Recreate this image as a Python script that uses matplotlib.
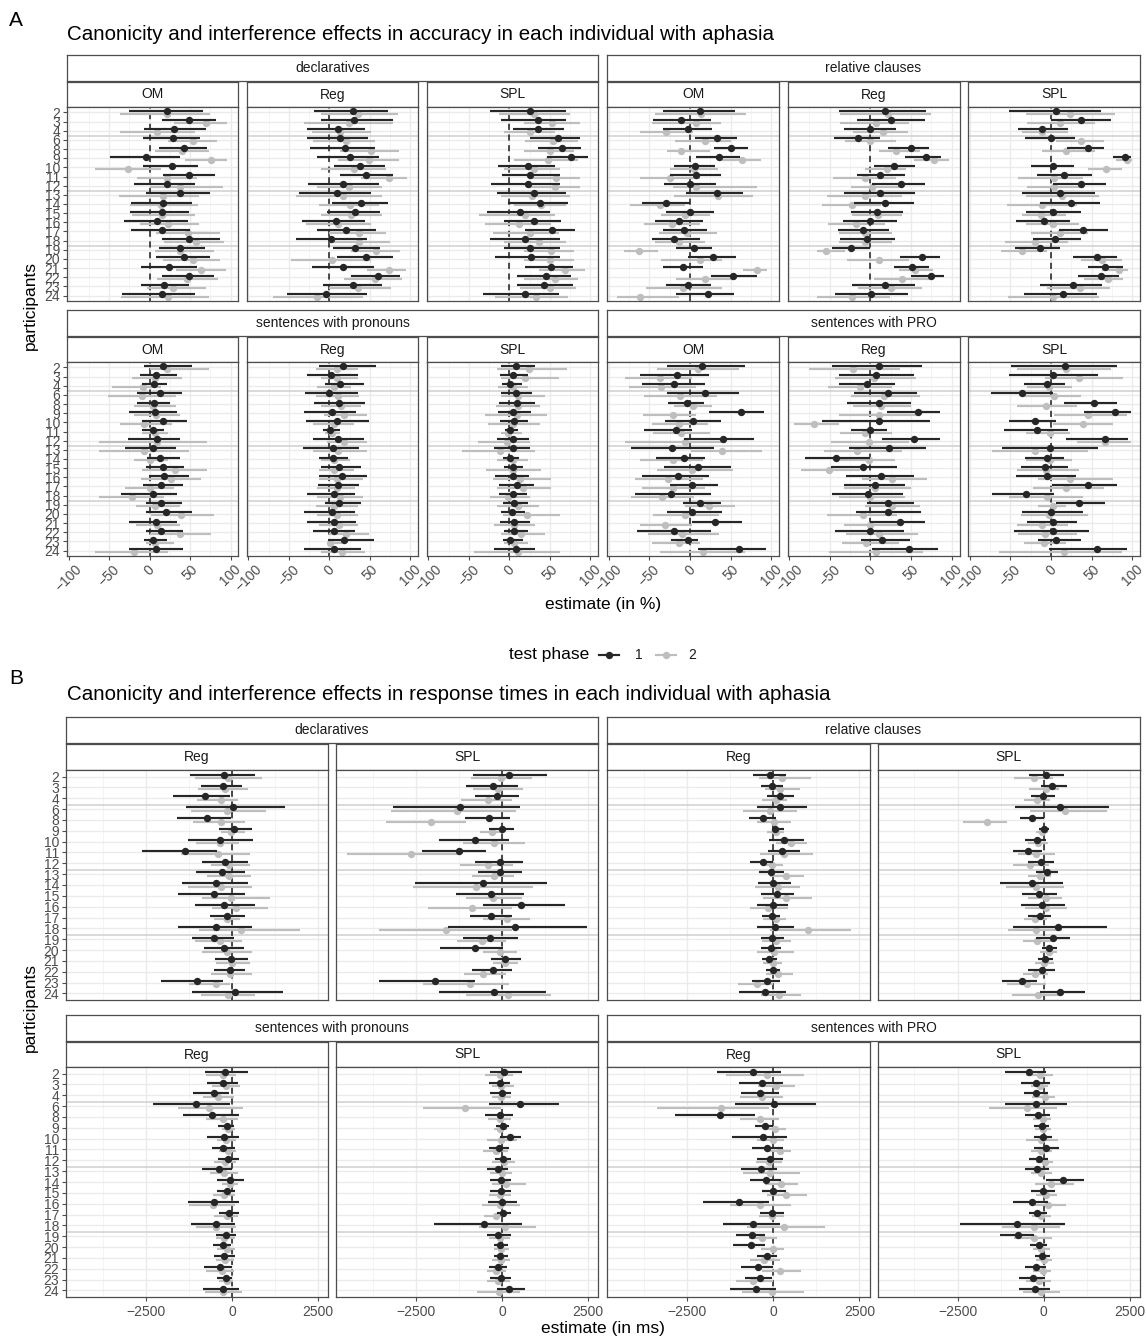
import numpy as np
import matplotlib
matplotlib.use("Agg")
import matplotlib.pyplot as plt
from matplotlib.lines import Line2D

plt.rcParams['font.family'] = ['Liberation Sans', 'DejaVu Sans']

# ---------------- categories ----------------
participants = ['2', '3', '4', '6', '8', '9', '10', '11', '12', '13', '14', '15', '16',
                '17', '18', '19', '20', '21', '22', '23', '24']
phase_labels = ['1', '2']
groups = ['declaratives', 'relative clauses', 'sentences with pronouns', 'sentences with PRO']
acc_conditions = ['OM', 'Reg', 'SPL']
rt_conditions = ['Reg', 'SPL']
acc_ticks = [-100, -50, 0, 50, 100]
acc_minor = [-75, -25, 25, 75]
rt_ticks = [-2500, 0, 2500]
rt_minor = [-3750, -1250, 1250]
separator_after = ['4', '12', '18']

title_A = "Canonicity and interference effects in accuracy in each individual with aphasia"
title_B = "Canonicity and interference effects in response times in each individual with aphasia"

# ---------------- A: accuracy (estimate, lower, upper; phase 1 and phase 2) ----------------
acc_decl_OM_est1 = [22, 49, 30, 29, 42, -5, 28, 49, 21, 38, 17, 15, 9, 15, 48, 38, 43, 24, 48, 18, 15]
acc_decl_OM_lo1 = [-25, 15, -7, -8, 11, -49, -8, 16, -19, -4, -23, -24, -32, -23, 15, 11, 8, -11, 15, -11, -34]
acc_decl_OM_hi1 = [66, 82, 70, 62, 71, 37, 60, 81, 56, 75, 52, 48, 47, 50, 87, 68, 75, 59, 80, 49, 56]
acc_decl_OM_est2 = [22, 70, 9, 53, 40, 76, -27, 21, 37, 16, 14, 15, 23, 47, 57, 38, 53, 64, 46, 29, 23]
acc_decl_OM_lo2 = [-37, 30, -37, 23, 7, 44, -67, -15, 0, -38, -24, -22, -12, 8, 18, 7, 16, 33, 9, -3, -35]
acc_decl_OM_hi2 = [75, 95, 56, 83, 73, 96, 14, 59, 91, 61, 60, 56, 61, 87, 92, 80, 87, 94, 85, 70, 73]

acc_decl_Reg_est1 = [29, 30, 10, 13, 19, 25, 38, 45, 17, 9, 39, 31, 8, 21, 2, 32, 45, 17, 60, 29, -4]
acc_decl_Reg_lo1 = [-19, -10, -28, -28, -24, -15, 5, 13, -26, -38, 3, -3, -34, -16, -41, 4, 9, -21, 26, -8, -53]
acc_decl_Reg_hi1 = [72, 79, 44, 48, 56, 61, 69, 78, 61, 51, 72, 63, 44, 58, 46, 63, 78, 55, 87, 65, 46]
acc_decl_Reg_est2 = [35, 24, 13, 20, 51, 49, 30, 73, 24, 17, 25, 27, 11, 36, 37, 58, 3, 74, 56, 35, -15]
acc_decl_Reg_lo2 = [-10, -32, -22, -20, 13, 11, -10, 39, -15, -41, -13, -10, -29, -1, 0, 27, -47, 46, 18, -1, -70]
acc_decl_Reg_hi2 = [84, 79, 51, 56, 86, 86, 70, 96, 65, 65, 61, 65, 51, 70, 75, 87, 51, 94, 89, 76, 42]

acc_decl_SPL_est1 = [26, 35, 36, 60, 65, 76, 23, 25, 23, 31, 38, 13, 31, 53, 19, 26, 27, 52, 45, 43, 19]
acc_decl_SPL_lo1 = [-24, -10, 5, 25, 36, 46, -14, -9, -22, -15, -1, -27, -7, 19, -24, -6, -18, 20, 9, 10, -32]
acc_decl_SPL_hi1 = [70, 70, 68, 87, 89, 97, 56, 62, 63, 70, 73, 50, 64, 81, 63, 63, 63, 79, 76, 79, 61]
acc_decl_SPL_est2 = [30, 53, 25, 54, 50, 48, 30, 58, 56, 28, 39, 20, 12, 25, 37, 51, 50, 69, 56, 50, 33]
acc_decl_SPL_lo2 = [-13, 18, -6, 20, 18, 6, -6, 28, 23, -10, 6, -37, -30, -20, -6, 18, 18, 37, 18, 13, -18]
acc_decl_SPL_hi2 = [75, 87, 56, 85, 80, 85, 63, 87, 87, 75, 70, 56, 51, 61, 70, 80, 80, 93, 85, 82, 73]

acc_rel_OM_est1 = [12, -11, -3, 33, 50, 36, 6, 7, 0, 33, -30, 0, -14, -7, -19, 5, 28, -8, 53, -3, 22]
acc_rel_OM_lo1 = [-33, -46, -33, 6, 29, 7, -19, -24, -32, -5, -59, -30, -43, -33, -47, -17, -2, -33, 26, -30, -17]
acc_rel_OM_hi1 = [55, 26, 27, 58, 71, 62, 31, 38, 32, 65, 0, 29, 16, 21, 12, 27, 57, 16, 82, 26, 54]
acc_rel_OM_est2 = [14, 7, -29, 18, -11, 64, 5, -25, 7, 35, -37, -6, -22, -4, -14, -63, 12, 82, 19, -8, -61]
acc_rel_OM_lo2 = [-43, -47, -61, -18, -28, 38, -25, -61, -21, -19, -74, -36, -57, -38, -43, -81, -35, 65, -17, -54, -90]
acc_rel_OM_hi2 = [69, 38, 4, 51, 25, 87, 35, 12, 82, 77, -6, 25, 12, 33, 18, -39, 40, 95, 54, 39, -14]

acc_rel_Reg_est1 = [18, 25, 0, -15, 50, 68, 29, 12, 37, 12, 18, 8, 0, -9, -4, -24, 64, 51, 75, 18, 1]
acc_rel_Reg_lo1 = [-39, -17, -32, -45, 22, 43, 4, -16, 2, -33, -20, -24, -34, -40, -38, -47, 36, 29, 50, -23, -44]
acc_rel_Reg_hi1 = [68, 67, 32, 12, 72, 87, 55, 43, 67, 55, 53, 40, 33, 23, 30, -1, 85, 72, 91, 55, 46]
acc_rel_Reg_est2 = [22, 7, 15, 0, 31, 78, 20, -7, 2, -7, -23, 9, -18, -7, -7, -55, 10, 55, 39, 25, -23]
acc_rel_Reg_lo2 = [-37, -37, -22, -31, 10, 53, -7, -46, -24, -53, -59, -23, -52, -39, -39, -66, -29, 35, 4, -15, -66]
acc_rel_Reg_hi2 = [74, 48, 46, 31, 61, 96, 44, 31, 35, 39, 13, 39, 18, 26, 26, -31, 48, 77, 75, 64, 24]

acc_rel_SPL_est1 = [6, 37, -11, 0, 45, 91, 2, 16, 37, 11, 25, 2, -9, 40, 5, -14, 57, 67, 62, 27, 15]
acc_rel_SPL_lo1 = [-52, 0, -40, -32, 20, 76, -25, -17, 2, -36, -14, -31, -43, 10, -22, -44, 27, 46, 33, -14, -33]
acc_rel_SPL_hi1 = [61, 74, 21, 30, 65, 98, 28, 50, 68, 54, 60, 37, 24, 70, 37, 11, 81, 89, 84, 63, 57]
acc_rel_SPL_est2 = [23, 11, -11, 37, 18, 94, 68, 4, 4, 14, -11, -12, 2, 11, -19, -36, 63, 84, 70, 36, 3]
acc_rel_SPL_lo2 = [-31, -29, -36, 6, -11, 80, 46, -40, -29, -31, -54, -36, -31, -25, -56, -61, 37, 63, 41, -5, -53]
acc_rel_SPL_hi2 = [79, 54, 21, 65, 54, 100, 87, 39, 41, 59, 32, 19, 35, 46, 21, -5, 87, 95, 89, 72, 59]

acc_pron_OM_est1 = [17, 8, 5, 13, 5, 7, 17, 4, 9, 4, 13, 16, 18, 14, 4, 14, 20, 8, 14, 4, 8]
acc_pron_OM_lo1 = [-7, -12, -10, -16, -15, -26, -9, -10, -27, -30, -3, -4, -1, -8, -35, -5, -4, -25, -4, -7, -26]
acc_pron_OM_hi1 = [52, 34, 22, 40, 25, 34, 46, 18, 37, 32, 37, 42, 49, 41, 34, 40, 52, 34, 41, 21, 41]
acc_pron_OM_est2 = [22, 7, -8, -10, 4, 8, -7, 7, 9, -7, 1, 31, 26, 1, -22, 7, 39, 9, 38, 7, -19]
acc_pron_OM_lo2 = [0, -22, -46, -52, -19, -19, -37, -10, -63, -62, -19, -10, -11, -31, -62, -17, 2, -17, 0, -4, -68]
acc_pron_OM_hi2 = [73, 40, 14, 33, 33, 37, 28, 23, 71, 48, 23, 71, 63, 30, 18, 37, 79, 37, 76, 30, 23]

acc_pron_Reg_est1 = [17, 2, 13, 0, 12, 3, 9, 1, 11, 4, 4, 12, 15, 11, 5, 12, 3, 5, 6, 18, 6]
acc_pron_Reg_lo1 = [-13, -28, -6, -30, -19, -32, -29, -8, -20, -33, -13, -11, -13, -14, -28, -5, -32, -28, -20, -2, -31]
acc_pron_Reg_hi1 = [57, 35, 43, 35, 44, 33, 49, 13, 43, 36, 23, 39, 46, 37, 32, 39, 32, 33, 32, 55, 39]
acc_pron_Reg_est2 = [9, 9, 6, 11, 14, 18, 6, 3, 18, 11, 6, 5, 9, 9, 13, 5, 9, 12, 20, 1, 16]
acc_pron_Reg_lo2 = [-17, -10, -15, -17, -10, -7, -20, -6, -3, -20, -10, -13, -13, -15, -15, -17, -16, -13, -1, -3, -11]
acc_pron_Reg_hi2 = [35, 35, 27, 36, 39, 46, 30, 13, 46, 46, 25, 30, 41, 32, 41, 35, 35, 35, 49, 16, 44]

acc_pron_SPL_est1 = [8, 5, 1, 8, 10, 5, 6, 1, 5, 4, 1, 4, 4, 9, 4, 6, 3, 6, 6, 1, 8]
acc_pron_SPL_lo1 = [-10, -11, -9, -10, -13, -14, -12, -5, -15, -19, -8, -6, -18, -13, -13, -8, -10, -11, -7, -8, -19]
acc_pron_SPL_hi1 = [32, 23, 16, 28, 32, 27, 23, 11, 24, 25, 12, 17, 24, 30, 22, 23, 20, 25, 23, 17, 32]
acc_pron_SPL_est2 = [24, 19, 4, 11, 11, 9, 4, -1, -3, -11, 4, 4, 13, 17, -1, 11, 22, 6, 14, 6, 11]
acc_pron_SPL_lo2 = [-15, -10, -14, -10, -16, -30, -26, -10, -39, -59, -15, -29, -20, -15, -24, -15, -8, -19, -10, -7, -43]
acc_pron_SPL_hi2 = [71, 61, 23, 44, 38, 46, 38, 16, 25, 32, 23, 39, 51, 51, 25, 37, 62, 32, 44, 23, 63]

acc_pro_OM_est1 = [15, -16, -19, 18, -4, 63, 4, -17, 41, -22, -7, 10, -15, 3, -23, 12, 3, 31, -20, -3, 60]
acc_pro_OM_lo1 = [-28, -62, -59, -28, -27, 24, -31, -56, -7, -73, -42, -32, -59, -25, -67, -9, -28, 3, -65, -23, 10]
acc_pro_OM_hi1 = [68, 23, 18, 60, 17, 91, 38, 3, 79, 29, 18, 51, 23, 34, 26, 38, 39, 64, 26, 10, 94]
acc_pro_OM_est2 = [10, -37, -36, -12, 4, -21, -14, -11, -6, 40, -21, 3, -27, -21, -34, 24, -6, -31, -10, -13, 16]
acc_pro_OM_lo2 = [-40, -80, -75, -56, -19, -58, -47, -45, -80, 1, -62, -40, -67, -59, -73, -6, -45, -62, -51, -47, -37]
acc_pro_OM_hi2 = [60, 3, 7, 33, 27, 7, 22, 25, 44, 89, 16, 53, 16, 18, 5, 56, 36, 3, 36, 12, 68]

acc_pro_Reg_est1 = [10, 7, -4, 21, 11, 58, 11, -1, 54, 23, -42, -9, 13, 5, -3, 22, 22, 36, 0, 14, 47]
acc_pro_Reg_lo1 = [-47, -39, -39, -20, -29, 20, -59, -24, 14, -26, -80, -49, -30, -33, -47, -4, -18, 0, -43, -12, 2]
acc_pro_Reg_hi1 = [63, 53, 30, 57, 50, 86, 73, 20, 86, 68, 0, 33, 53, 42, 40, 53, 62, 67, 41, 49, 83]
acc_pro_Reg_est2 = [-22, 4, -13, 17, 13, 11, -70, -7, -2, -17, -2, -51, 26, 5, -1, 26, -9, 0, 11, -5, 7]
acc_pro_Reg_lo2 = [-76, -43, -52, -24, -22, -39, -94, -37, -48, -57, -37, -85, -11, -33, -39, -7, -53, -33, -30, -35, -51]
acc_pro_Reg_hi2 = [36, 56, 26, 61, 50, 61, -39, 26, 48, 39, 30, -13, 70, 50, 43, 61, 33, 35, 59, 35, 65]

acc_pro_SPL_est1 = [17, 3, -5, -36, 53, 79, -20, -17, 66, -1, -5, -7, -5, 45, -31, 34, 0, 2, 2, 6, 57]
acc_pro_SPL_lo1 = [-49, -51, -33, -74, 16, 41, -51, -58, 18, -60, -32, -37, -43, 1, -72, 6, -36, -30, -46, -16, -3]
acc_pro_SPL_hi1 = [81, 58, 17, 2, 81, 98, 6, 21, 95, 58, 16, 21, 31, 81, 4, 67, 39, 32, 47, 37, 94]
acc_pro_SPL_est2 = [19, 35, -3, 4, -6, 45, 40, -1, 66, -20, -1, -6, 24, 18, -5, 2, -3, -11, -7, -8, 16]
acc_pro_SPL_lo2 = [-42, -7, -29, -33, -42, 4, 2, -31, 32, -72, -31, -42, -16, -22, -51, -16, -37, -42, -40, -33, -64]
acc_pro_SPL_hi2 = [74, 89, 26, 37, 32, 93, 76, 24, 98, 45, 26, 34, 76, 65, 39, 19, 45, 21, 32, 19, 87]

# ---------------- B: response times in ms ----------------
rt_decl_Reg_est1 = [-223, -274, -780, 30, -729, 61, -344, -1378, -193, -294, -456, -527, -223, -152, -456, -527, -223, -41, -71, -1013, 101]
rt_decl_Reg_lo1 = [-1216, -902, -1722, -1337, -1590, -375, -1276, -2624, -871, -1033, -1459, -1560, -1074, -628, -1560, -1165, -810, -496, -527, -2067, -1165]
rt_decl_Reg_hi1 = [658, 284, -71, 1530, -20, 588, 608, -446, 456, 365, 456, 365, 658, 365, 588, 51, 355, 456, 365, -274, 1479]
rt_decl_Reg_est2 = [-101, -203, -324, -152, -324, -20, -344, -405, -91, -91, -304, -20, 111, -142, 263, -355, -152, 10, -51, -456, -122]
rt_decl_Reg_lo2 = [-1084, -983, -1013, -1185, -1135, -324, -1054, -1489, -608, -729, -1287, -881, -577, -527, -952, -1084, -881, -476, -608, -1256, -912]
rt_decl_Reg_hi2 = [861, 456, 182, 993, 365, 385, 213, 517, 537, 567, 588, 1094, 1043, 233, 1985, 304, 588, 537, 588, -71, 669]

rt_decl_SPL_est1 = [192, -253, -132, -1216, -385, -10, -770, -1246, -61, -51, -557, -314, 557, -304, 375, -334, -790, 101, -263, -1935, -233]
rt_decl_SPL_lo1 = [-841, -1043, -790, -3171, -1074, -385, -1823, -2310, -790, -689, -2533, -1347, -537, -942, -1580, -1145, -1803, -304, -871, -3576, -1823]
rt_decl_SPL_hi1 = [1307, 456, 507, 527, 243, 355, 203, -466, 608, 577, 1307, 648, 1823, 294, 2472, 476, 20, 557, 294, -790, 1266]
rt_decl_SPL_est2 = [-30, -101, -405, -1317, -2056, -284, -233, -2634, -405, -233, -760, -253, -861, 152, -1631, -588, -61, 101, -557, -922, 172]
rt_decl_SPL_lo2 = [-912, -841, -1175, -3221, -3373, -638, -1145, -4508, -1216, -861, -2583, -1043, -2138, -537, -3576, -1317, -557, -263, -1114, -2289, -1043]
rt_decl_SPL_hi2 = [881, 608, 294, 395, -1043, 71, 679, -1195, 324, 355, 902, 577, 294, 810, 294, 122, 425, 476, 122, 203, 1438]

rt_rel_Reg_est1 = [-102, -51, 183, 203, -284, 51, 325, 264, -284, -71, 0, 102, -20, -51, 51, -30, -71, -122, 0, -183, -254]
rt_rel_Reg_lo1 = [-589, -356, -183, -478, -711, -51, -122, -152, -681, -406, -437, -356, -457, -325, -478, -356, -356, -335, -203, -630, -986]
rt_rel_Reg_hi1 = [356, 274, 610, 965, 71, 305, 884, 782, 0, 305, 528, 610, 437, 203, 610, 305, 234, 102, 203, 183, 376]
rt_rel_Reg_est2 = [254, 203, 71, -81, 20, 71, 508, 325, -30, 356, 132, 376, -152, 71, 1016, 71, 20, 0, 132, -478, 173]
rt_rel_Reg_lo2 = [-406, -254, -335, -864, -478, -173, 71, -386, -305, -102, -528, -284, -681, -305, -102, -335, -457, -305, -203, -1016, -356]
rt_rel_Reg_hi2 = [1087, 762, 386, 681, 528, 305, 965, 1138, 284, 894, 762, 1118, 427, 376, 2256, 508, 589, 254, 559, 0, 792]

rt_rel_SPL_est1 = [71, 244, -10, 478, -335, 10, -193, -467, -91, 91, -345, -132, -41, -112, 417, 264, 163, 41, -61, -620, 478]
rt_rel_SPL_lo1 = [-417, -91, -366, -823, -701, -142, -549, -904, -467, -213, -1280, -620, -671, -447, -894, -213, -41, -163, -447, -1209, -112]
rt_rel_SPL_hi1 = [579, 681, 315, 1890, 0, 142, 61, -41, 295, 427, 549, 396, 620, 224, 1839, 752, 376, 264, 315, -183, 1189]
rt_rel_SPL_est2 = [-284, 61, -183, 630, -1636, -41, -163, -213, -396, -112, -234, 61, 61, -244, -213, -183, 163, 10, -264, -498, -163]
rt_rel_SPL_lo2 = [-853, -417, -569, -386, -2347, -213, -467, -752, -894, -447, -1097, -467, -549, -569, -1026, -600, -112, -264, -589, -1077, -925]
rt_rel_SPL_hi2 = [264, 447, 193, 1819, -1057, 122, 122, 315, 142, 224, 579, 528, 671, 91, 528, 244, 396, 295, 122, 61, 528]

rt_pron_Reg_est1 = [-202, -253, -525, -1030, -576, -141, -222, -253, -121, -374, -71, -152, -525, -91, -475, -172, -253, -222, -354, -172, -273]
rt_pron_Reg_lo1 = [-778, -727, -1131, -2293, -1434, -394, -727, -576, -394, -859, -424, -424, -1283, -374, -1182, -455, -556, -525, -798, -424, -828]
rt_pron_Reg_hi1 = [455, 162, -91, -71, 212, 51, 212, 81, 212, 10, 354, 101, 212, 212, 101, 131, -20, 81, 10, 10, 212]
rt_pron_Reg_est2 = [-273, -172, -394, -677, -253, -121, -172, -121, -202, -222, -51, -222, -556, -152, -455, -222, -152, -192, -303, -152, -273]
rt_pron_Reg_lo2 = [-747, -576, -828, -1555, -747, -303, -444, -374, -525, -626, -303, -556, -1252, -525, -1050, -475, -424, -475, -747, -374, -778]
rt_pron_Reg_hi2 = [131, 232, 61, 333, 182, 81, 131, 131, 131, 182, 182, 101, 101, 162, 131, 81, 81, 51, 51, 30, 303]

rt_pron_SPL_est1 = [71, -61, -10, 525, -61, 20, 222, -81, 20, -111, -30, -30, -10, 40, -535, -101, -61, -51, -101, -30, 202]
rt_pron_SPL_lo1 = [-333, -364, -333, -384, -485, -182, -51, -364, -202, -434, -333, -333, -404, -152, -1970, -434, -232, -232, -364, -333, -131]
rt_pron_SPL_hi1 = [576, 242, 253, 1656, 323, 202, 545, 192, 253, 172, 253, 253, 424, 253, 576, 253, 172, 172, 141, 273, 657]
rt_pron_SPL_est2 = [-61, -30, -30, -1060, -61, -61, -30, -182, 51, -10, 121, -61, -61, -182, 91, -61, -30, -30, -182, -101, -81]
rt_pron_SPL_lo2 = [-505, -283, -283, -2303, -404, -232, -434, -556, -283, -333, -283, -364, -566, -535, -667, -364, -232, -303, -434, -434, -737]
rt_pron_SPL_hi2 = [323, 343, 273, -30, 273, 141, 424, 172, 374, 303, 697, 273, 525, 121, 980, 242, 202, 242, 121, 222, 525]

rt_pro_Reg_est1 = [-579, -325, -386, 20, -1544, -254, -284, -173, -102, -356, -203, 0, -996, -51, -579, -610, -640, -173, -437, -386, -508]
rt_pro_Reg_lo1 = [-1626, -996, -935, -1118, -2845, -528, -1199, -630, -478, -945, -681, -335, -2032, -386, -1453, -1067, -1168, -457, -945, -833, -1240]
rt_pro_Reg_hi1 = [234, 274, 152, 1250, -538, 0, 406, 274, 284, 122, 234, 376, -132, 305, 203, -234, -254, 122, 0, -51, 81]
rt_pro_Reg_est2 = [-183, 81, -325, -1524, -386, 51, -20, 203, -122, -81, 224, 376, -386, -30, 325, -325, -20, -274, 203, -589, -51]
rt_pro_Reg_lo2 = [-1372, -437, -965, -3373, -965, -274, -457, -203, -508, -864, -254, -183, -1240, -406, -762, -711, -356, -681, -325, -1067, -914]
rt_pro_Reg_hi2 = [884, 640, 274, -122, 173, 356, 305, 508, 254, 762, 711, 965, 508, 325, 1494, 102, 325, 203, 813, 0, 894]

rt_pro_SPL_est1 = [-434, -222, -222, -222, -172, -51, -30, 71, -152, -202, 556, -30, -354, -182, -788, -737, -152, -51, -222, -323, -253]
rt_pro_SPL_lo1 = [-1111, -657, -586, -1131, -535, -273, -283, -283, -434, -535, 71, -384, -879, -434, -2424, -1263, -404, -253, -556, -727, -727]
rt_pro_SPL_hi1 = [51, 182, 121, 687, 182, 152, 232, 455, 131, 152, 1162, 323, 131, 101, 606, -283, 81, 182, 51, 30, 182]
rt_pro_SPL_est2 = [-101, -101, 30, -475, -30, -30, -81, -81, 30, -81, 202, 51, 131, -71, -283, -283, -71, 20, -30, -131, -71]
rt_pro_SPL_lo2 = [-505, -374, -354, -1586, -323, -253, -505, -374, -232, -374, -253, -222, -253, -354, -1212, -859, -303, -232, -303, -505, -606]
rt_pro_SPL_hi2 = [273, 121, 323, 384, 222, 202, 404, 232, 273, 232, 889, 384, 657, 222, 485, 253, 182, 253, 202, 222, 485]

# ---------------- tables built from the arrays ----------------
acc_data = {
    ('declaratives', 'OM'): (acc_decl_OM_est1, acc_decl_OM_lo1, acc_decl_OM_hi1, acc_decl_OM_est2, acc_decl_OM_lo2, acc_decl_OM_hi2),
    ('declaratives', 'Reg'): (acc_decl_Reg_est1, acc_decl_Reg_lo1, acc_decl_Reg_hi1, acc_decl_Reg_est2, acc_decl_Reg_lo2, acc_decl_Reg_hi2),
    ('declaratives', 'SPL'): (acc_decl_SPL_est1, acc_decl_SPL_lo1, acc_decl_SPL_hi1, acc_decl_SPL_est2, acc_decl_SPL_lo2, acc_decl_SPL_hi2),
    ('relative clauses', 'OM'): (acc_rel_OM_est1, acc_rel_OM_lo1, acc_rel_OM_hi1, acc_rel_OM_est2, acc_rel_OM_lo2, acc_rel_OM_hi2),
    ('relative clauses', 'Reg'): (acc_rel_Reg_est1, acc_rel_Reg_lo1, acc_rel_Reg_hi1, acc_rel_Reg_est2, acc_rel_Reg_lo2, acc_rel_Reg_hi2),
    ('relative clauses', 'SPL'): (acc_rel_SPL_est1, acc_rel_SPL_lo1, acc_rel_SPL_hi1, acc_rel_SPL_est2, acc_rel_SPL_lo2, acc_rel_SPL_hi2),
    ('sentences with pronouns', 'OM'): (acc_pron_OM_est1, acc_pron_OM_lo1, acc_pron_OM_hi1, acc_pron_OM_est2, acc_pron_OM_lo2, acc_pron_OM_hi2),
    ('sentences with pronouns', 'Reg'): (acc_pron_Reg_est1, acc_pron_Reg_lo1, acc_pron_Reg_hi1, acc_pron_Reg_est2, acc_pron_Reg_lo2, acc_pron_Reg_hi2),
    ('sentences with pronouns', 'SPL'): (acc_pron_SPL_est1, acc_pron_SPL_lo1, acc_pron_SPL_hi1, acc_pron_SPL_est2, acc_pron_SPL_lo2, acc_pron_SPL_hi2),
    ('sentences with PRO', 'OM'): (acc_pro_OM_est1, acc_pro_OM_lo1, acc_pro_OM_hi1, acc_pro_OM_est2, acc_pro_OM_lo2, acc_pro_OM_hi2),
    ('sentences with PRO', 'Reg'): (acc_pro_Reg_est1, acc_pro_Reg_lo1, acc_pro_Reg_hi1, acc_pro_Reg_est2, acc_pro_Reg_lo2, acc_pro_Reg_hi2),
    ('sentences with PRO', 'SPL'): (acc_pro_SPL_est1, acc_pro_SPL_lo1, acc_pro_SPL_hi1, acc_pro_SPL_est2, acc_pro_SPL_lo2, acc_pro_SPL_hi2),
}
rt_data = {
    ('declaratives', 'Reg'): (rt_decl_Reg_est1, rt_decl_Reg_lo1, rt_decl_Reg_hi1, rt_decl_Reg_est2, rt_decl_Reg_lo2, rt_decl_Reg_hi2),
    ('declaratives', 'SPL'): (rt_decl_SPL_est1, rt_decl_SPL_lo1, rt_decl_SPL_hi1, rt_decl_SPL_est2, rt_decl_SPL_lo2, rt_decl_SPL_hi2),
    ('relative clauses', 'Reg'): (rt_rel_Reg_est1, rt_rel_Reg_lo1, rt_rel_Reg_hi1, rt_rel_Reg_est2, rt_rel_Reg_lo2, rt_rel_Reg_hi2),
    ('relative clauses', 'SPL'): (rt_rel_SPL_est1, rt_rel_SPL_lo1, rt_rel_SPL_hi1, rt_rel_SPL_est2, rt_rel_SPL_lo2, rt_rel_SPL_hi2),
    ('sentences with pronouns', 'Reg'): (rt_pron_Reg_est1, rt_pron_Reg_lo1, rt_pron_Reg_hi1, rt_pron_Reg_est2, rt_pron_Reg_lo2, rt_pron_Reg_hi2),
    ('sentences with pronouns', 'SPL'): (rt_pron_SPL_est1, rt_pron_SPL_lo1, rt_pron_SPL_hi1, rt_pron_SPL_est2, rt_pron_SPL_lo2, rt_pron_SPL_hi2),
    ('sentences with PRO', 'Reg'): (rt_pro_Reg_est1, rt_pro_Reg_lo1, rt_pro_Reg_hi1, rt_pro_Reg_est2, rt_pro_Reg_lo2, rt_pro_Reg_hi2),
    ('sentences with PRO', 'SPL'): (rt_pro_SPL_est1, rt_pro_SPL_lo1, rt_pro_SPL_hi1, rt_pro_SPL_est2, rt_pro_SPL_lo2, rt_pro_SPL_hi2),
}

# ---------------- styling / layout ----------------
W, H = 1146, 1339
BLACK = '#262626'
GREY = '#BEBEBE'
BORDER = '#4D4D4D'
GRID = '#EBEBEB'
TICKTXT = '#4D4D4D'
DODGE = 0.16
MS = 5.3
LW = 1.55

fig = plt.figure(figsize=(W / 100, H / 100), dpi=100)
fig.patch.set_facecolor('white')


def px_axes(x0, y0, x1, y1):
    return fig.add_axes([x0 / W, 1 - y1 / H, (x1 - x0) / W, (y1 - y0) / H])


def strip(x0, y0, x1, y1, label):
    ax = px_axes(x0, y0, x1, y1)
    ax.set_xticks([])
    ax.set_yticks([])
    for s in ax.spines.values():
        s.set_color(BORDER)
        s.set_linewidth(0.9)
    ax.text(0.5, 0.5, label, ha='center', va='center', fontsize=10,
            color='#1A1A1A', transform=ax.transAxes)


def facet(box, data, xlim, major, minor, show_y, show_x, rotate):
    x0, y0, x1, y1 = box
    ax = px_axes(x0, y0, x1, y1)
    n = len(participants)
    pos = np.arange(n)
    ax.set_xlim(*xlim)
    ax.set_ylim(n - 1 + 0.6, -0.6)
    for v in minor:
        ax.axvline(v, color='#F3F3F3', lw=0.6, zorder=0)
    for v in major:
        ax.axvline(v, color=GRID, lw=1.0, zorder=0)
    for p in pos:
        ax.axhline(p, color=GRID, lw=1.0, zorder=0)
    for lab in separator_after:
        ax.axhline(participants.index(lab) + 0.62, color='#CFCFCF', lw=1.1, zorder=0.5)
    ax.axvline(0, color='#1A1A1A', lw=1.1, ls=(0, (4, 3)), zorder=1)
    est1, lo1, hi1, est2, lo2, hi2 = data
    ax.hlines(pos + DODGE, lo2, hi2, color=GREY, lw=LW, zorder=2)
    ax.plot(est2, pos + DODGE, 'o', color=GREY, ms=MS, mec='none', zorder=3)
    ax.hlines(pos - DODGE, lo1, hi1, color=BLACK, lw=LW, zorder=4)
    ax.plot(est1, pos - DODGE, 'o', color=BLACK, ms=MS, mec='none', zorder=5)
    for s in ax.spines.values():
        s.set_color(BORDER)
        s.set_linewidth(0.9)
        s.set_zorder(6)
    if show_y:
        ax.set_yticks(pos)
        ax.set_yticklabels(participants, fontsize=10, color=TICKTXT)
    else:
        ax.set_yticks([])
    if show_x:
        ax.set_xticks(major)
        labs = [str(t).replace('-', '\u2212') for t in major]
        if rotate:
            ax.set_xticklabels(labs, fontsize=10, color=TICKTXT, rotation=45, ha='center')
        else:
            ax.set_xticklabels(labs, fontsize=10, color=TICKTXT)
    else:
        ax.set_xticks([])
    ax.tick_params(axis='y', length=3, width=0.8, color=BORDER, pad=2)
    ax.tick_params(axis='x', length=3, width=0.8, color=BORDER, pad=1.5 if rotate else 2.5)
    return ax


def facet_boxes(gx0, gx1, k, gap):
    w = (gx1 - gx0 - gap * (k - 1)) / k
    return [(gx0 + i * (w + gap), gx0 + i * (w + gap) + w) for i in range(k)]


# ---------------- Panel A ----------------
fig.text(9 / W, 1 - 20 / H, 'A', fontsize=15, ha='left', va='center', color='black')
fig.text(67 / W, 1 - 34 / H, title_A, fontsize=14.8, ha='left', va='center', color='black')

A_group_x = [(67, 598), (607, 1140)]
A_rows = [(55, 81, 82, 107, 301), (310, 336, 337, 362, 556)]
A_xlim = (-102, 109.5)
for r, (gs0, gs1, ss0, ss1, pb) in enumerate(A_rows):
    for c, (gx0, gx1) in enumerate(A_group_x):
        grp = groups[2 * r + c]
        strip(gx0, gs0, gx1, gs1, grp)
        for i, (fx0, fx1) in enumerate(facet_boxes(gx0, gx1, 3, 8.5)):
            cond = acc_conditions[i]
            strip(fx0, ss0, fx1, ss1, cond)
            facet((fx0, ss1, fx1, pb), acc_data[(grp, cond)], A_xlim, acc_ticks, acc_minor,
                  show_y=(c == 0 and i == 0), show_x=(r == 1), rotate=True)

fig.text(30 / W, 1 - 305 / H, 'participants', fontsize=12.5, rotation=90, ha='center', va='center')
fig.text(603 / W, 1 - 605 / H, 'estimate (in %)', fontsize=12.5, ha='center', va='center')

# legend
ly = 1 - 655 / H
fig.text(509 / W, ly, 'test phase', fontsize=12.5, ha='left', va='center')
for colr, cx, lab, tx in [(BLACK, 609, phase_labels[0], 635), (GREY, 666, phase_labels[1], 688)]:
    fig.add_artist(Line2D([(cx - 10) / W, (cx + 10) / W], [ly, ly], color=colr, lw=LW,
                          transform=fig.transFigure))
    fig.add_artist(Line2D([cx / W], [ly], marker='o', ms=MS, mec='none', color=colr,
                          transform=fig.transFigure))
    fig.text(tx / W, ly, lab, fontsize=10, ha='left', va='center', color='#1A1A1A')

# ---------------- Panel B ----------------
fig.text(9 / W, 1 - 678 / H, 'B', fontsize=15, ha='left', va='center', color='black')
fig.text(67 / W, 1 - 695 / H, title_B, fontsize=14.8, ha='left', va='center', color='black')

B_group_x = [(66, 598), (607, 1140)]
B_rows = [(717, 743, 744, 770, 1000), (1015, 1041, 1042, 1067, 1297)]
B_xlim = (-4820, 2790)
for r, (gs0, gs1, ss0, ss1, pb) in enumerate(B_rows):
    for c, (gx0, gx1) in enumerate(B_group_x):
        grp = groups[2 * r + c]
        strip(gx0, gs0, gx1, gs1, grp)
        for i, (fx0, fx1) in enumerate(facet_boxes(gx0, gx1, 2, 8)):
            cond = rt_conditions[i]
            strip(fx0, ss0, fx1, ss1, cond)
            facet((fx0, ss1, fx1, pb), rt_data[(grp, cond)], B_xlim, rt_ticks, rt_minor,
                  show_y=(c == 0 and i == 0), show_x=(r == 1), rotate=False)

fig.text(30 / W, 1 - 1007 / H, 'participants', fontsize=12.5, rotation=90, ha='center', va='center')
fig.text(603 / W, 1 - 1329 / H, 'estimate (in ms)', fontsize=12.5, ha='center', va='center')

fig.savefig('out.png', dpi=100, facecolor='white')
